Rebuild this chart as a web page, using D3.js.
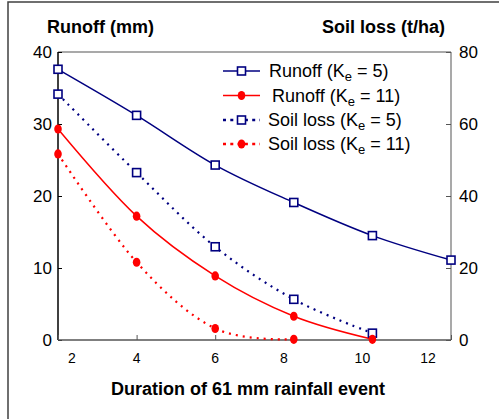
<!DOCTYPE html>
<html>
<head>
<meta charset="utf-8">
<script src="https://cdn.jsdelivr.net/npm/d3@7"></script>
<style>
  html, body { margin: 0; padding: 0; background: #fff; }
  text { font-family: "Liberation Sans", Arial, sans-serif; }
</style>
</head>
<body>
<div id="js_chart"></div>
<script>
// data
const durations = [2, 4, 6, 8, 10, 12];
const runoffKe5 = [37.6, 31.2, 24.3, 19.1, 14.5, 11.1];
const runoffKe11 = [29.3, 17.2, 8.9, 3.3, 0.1];
const soilKe5 = [68.3, 46.5, 25.9, 11.3, 1.9];
const soilKe11 = [51.7, 21.6, 3.2, 0.2];
const leftTicks = [0, 10, 20, 30, 40];
const rightTicks = [0, 20, 40, 60, 80];
const xTickLabels = ["2", "4", "6", "8", "10", "12"];
const legendNames = ["Runoff", "Runoff", "Soil loss", "Soil loss"];
const legendKe = ["5", "11", "5", "11"];

createPlot();

function createPlot() {
    // ******************************************************
    // Settings
    // ******************************************************
    let width = 499, height = 419;
    let plot = {left: 58, right: 451, top: 52, bottom: 340};
    const navy = "#000080", red = "#ff0000";

    let x = d3.scaleLinear().domain([2, 12]).range([plot.left, plot.right]);
    let yL = d3.scaleLinear().domain([0, 40]).range([plot.bottom, plot.top]);
    let yR = d3.scaleLinear().domain([0, 80]).range([plot.bottom, plot.top]);

    let svg = d3.select("#js_chart")
        .append("svg")
        .attr("width", width)
        .attr("height", height);

    // outer frame
    svg.append("rect")
        .attr("x", 8).attr("y", 2)
        .attr("width", 520).attr("height", 440)
        .attr("fill", "none").attr("stroke", "#404040").attr("stroke-width", 1.5);

    // plot frame: top/right grey, left/bottom axes
    svg.append("line").attr("x1", plot.left).attr("x2", plot.right).attr("y1", plot.top).attr("y2", plot.top)
        .attr("stroke", "#8c8c8c").attr("stroke-width", 1.5);

    let gL = svg.append("g").attr("transform", "translate(" + plot.left + ",0)")
        .call(d3.axisRight(yL).tickValues(leftTicks).tickSize(4).tickFormat(""));
    gL.select(".domain").attr("stroke", "#000").attr("stroke-width", 1.5).attr("d", "M0," + plot.top + "V" + plot.bottom);

    let gR = svg.append("g").attr("transform", "translate(" + plot.right + ",0)")
        .call(d3.axisLeft(yR).tickValues(rightTicks).tickSize(5).tickFormat(""));
    gR.select(".domain").attr("stroke", "#8c8c8c").attr("stroke-width", 1.5).attr("d", "M0," + plot.top + "V" + plot.bottom);
    gR.selectAll(".tick line").attr("stroke", "#555");

    let gX = svg.append("g").attr("transform", "translate(0," + plot.bottom + ")")
        .call(d3.axisTop(x).tickValues(durations).tickSize(5).tickFormat(""));
    gX.select(".domain").attr("stroke", "#555").attr("stroke-width", 1.5).attr("d", "M" + plot.left + ",0H" + plot.right);
    gX.selectAll(".tick line").attr("stroke", "#555");

    // tick labels
    svg.append("g").selectAll("text").data(leftTicks).enter().append("text")
        .attr("x", 52).attr("y", d => yL(d) + 6)
        .attr("text-anchor", "end").attr("font-size", 17)
        .text(d => d);

    svg.append("g").selectAll("text").data(rightTicks).enter().append("text")
        .attr("x", 459).attr("y", d => yR(d) + 6)
        .attr("font-size", 17)
        .text(d => d);

    // x labels sit a bit off their ticks in the original
    const labelNudge = [14, 0, 0, -10, -10, -23];
    svg.append("g").selectAll("text").data(xTickLabels).enter().append("text")
        .attr("x", (d, i) => x(durations[i]) + labelNudge[i])
        .attr("y", 363)
        .attr("text-anchor", "middle").attr("font-size", 14)
        .text(d => d);

    // titles
    svg.append("text").attr("x", 47).attr("y", 33)
        .attr("font-size", 18).attr("font-weight", "bold").text("Runoff (mm)");
    svg.append("text").attr("x", 445).attr("y", 33).attr("text-anchor", "end")
        .attr("font-size", 18).attr("font-weight", "bold").text("Soil loss (t/ha)");
    svg.append("text").attr("x", 248).attr("y", 395).attr("text-anchor", "middle")
        .attr("font-size", 18).attr("font-weight", "bold").text("Duration of 61 mm rainfall event");

    // ******************************************************
    // series
    // ******************************************************
    const smooth = d3.curveCardinal.tension(0);
    const series = [
        {vals: runoffKe5, y: yL, color: navy, dash: null, marker: "square"},
        {vals: soilKe5, y: yR, color: navy, dash: "2,5", marker: "square"},
        {vals: soilKe11, y: yR, color: red, dash: "2,5", marker: "circle"},
        {vals: runoffKe11, y: yL, color: red, dash: null, marker: "circle"}
    ];

    series.forEach(s => {
        let pts = s.vals.map((v, i) => [x(durations[i]), s.y(v)]);
        svg.append("path")
            .attr("d", d3.line().curve(smooth)(pts))
            .attr("fill", "none")
            .attr("stroke", s.color)
            .attr("stroke-width", s.dash ? 2.2 : 1.5)
            .attr("stroke-dasharray", s.dash);
    });
    series.forEach(s => {
        let pts = s.vals.map((v, i) => [x(durations[i]), s.y(v)]);
        drawMarkers(svg.append("g"), pts, s);
    });

    // ******************************************************
    // legend
    // ******************************************************
    const legendSeries = [series[0], series[3], series[1], series[2]];
    const legendY = [71, 95.5, 120, 144];
    const legendTextX = [269, 272, 268, 268];
    let lg = svg.append("g");
    legendSeries.forEach((s, i) => {
        let yy = legendY[i];
        lg.append("line")
            .attr("x1", 223).attr("x2", 260).attr("y1", yy).attr("y2", yy)
            .attr("stroke", s.color)
            .attr("stroke-width", s.dash ? 2.5 : 1.5)
            .attr("stroke-dasharray", s.dash ? "3,4.3" : null);
        drawMarkers(lg.append("g"), [[241.5, yy]], s);
        let t = lg.append("text").attr("x", legendTextX[i]).attr("y", yy + 6).attr("font-size", 18);
        t.append("tspan").text(legendNames[i] + " (K");
        t.append("tspan").attr("dy", 4).attr("font-size", 13).text("e");
        t.append("tspan").attr("dy", -4).text(" = " + legendKe[i] + ")");
    });

    // ******************************************************
    // Internal functions
    // ******************************************************
    function drawMarkers(g, pts, s) {
        if (s.marker === "square") {
            g.selectAll("rect").data(pts).enter().append("rect")
                .attr("x", d => d[0] - 4).attr("y", d => d[1] - 4)
                .attr("width", 8).attr("height", 8)
                .attr("fill", "#fff").attr("stroke", s.color).attr("stroke-width", 1.6);
        } else {
            g.selectAll("ellipse").data(pts).enter().append("ellipse")
                .attr("cx", d => d[0]).attr("cy", d => d[1])
                .attr("rx", 3.8).attr("ry", 4.6)
                .attr("fill", s.color);
        }
    }
}
</script>
</body>
</html>
